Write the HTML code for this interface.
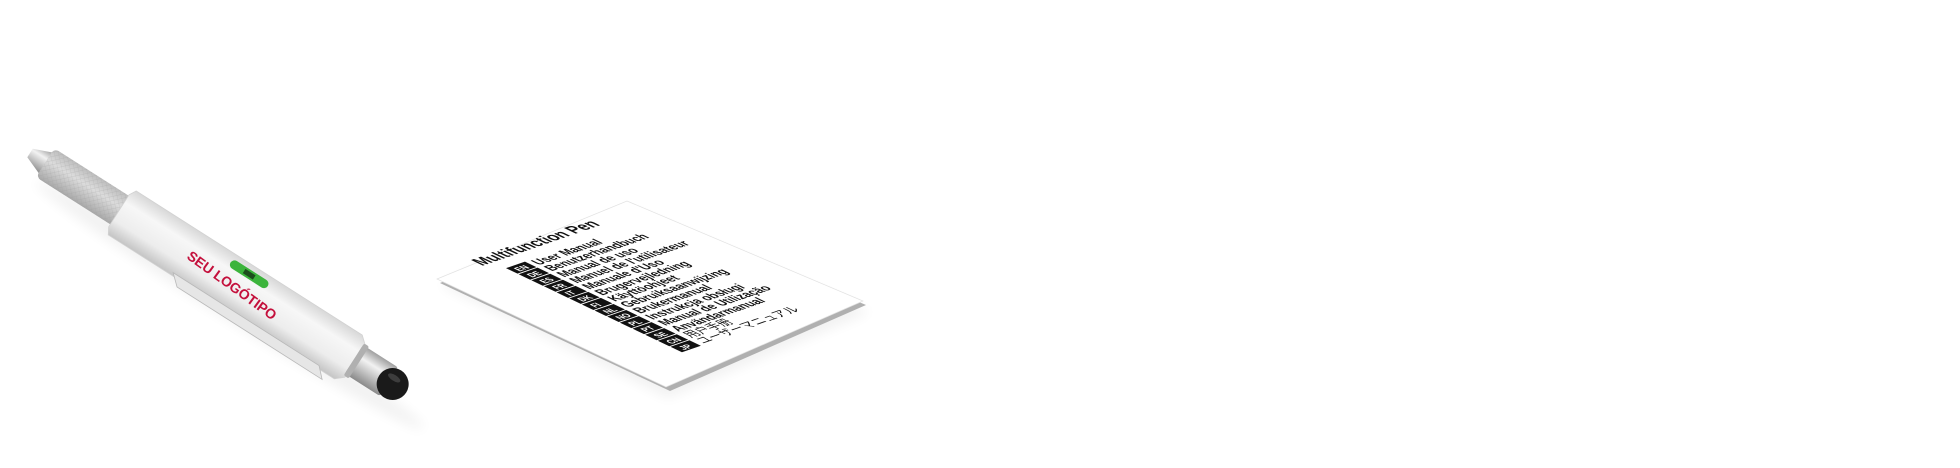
<!DOCTYPE html>
<html><head><meta charset="utf-8"><style>
html,body{margin:0;padding:0;background:#fff;width:1960px;height:468px;overflow:hidden}
svg{display:block}
</style></head><body>
<svg width="1960" height="468" viewBox="0 0 1960 468" xmlns="http://www.w3.org/2000/svg">
<defs>
<linearGradient id="body" x1="0" y1="0" x2="0" y2="1">
<stop offset="0" stop-color="#d8d8d8"/><stop offset="0.3" stop-color="#f7f7f7"/><stop offset="0.7" stop-color="#ededed"/><stop offset="1" stop-color="#c4c4c4"/></linearGradient>
<linearGradient id="grip" x1="0" y1="0" x2="0" y2="1">
<stop offset="0" stop-color="#bdbdbd"/><stop offset="0.4" stop-color="#dcdcdc"/><stop offset="1" stop-color="#a8a8a8"/></linearGradient>
<linearGradient id="cap" x1="0" y1="0" x2="0" y2="1">
<stop offset="0" stop-color="#a0a0a0"/><stop offset="0.35" stop-color="#f2f2f2"/><stop offset="1" stop-color="#8a8a8a"/></linearGradient>
<pattern id="knurl" width="4" height="4" patternUnits="userSpaceOnUse" patternTransform="rotate(45)">
<path d="M0 0H4M0 0V4" stroke="#999" stroke-width="0.6" opacity="0.5"/></pattern>
<filter id="sh" x="-20%" y="-50%" width="140%" height="200%"><feGaussianBlur stdDeviation="6"/></filter>
</defs>
<ellipse cx="230" cy="305" rx="230" ry="14" transform="rotate(32.5 230 305)" fill="#000" opacity="0.05" filter="url(#sh)"/>
<polygon points="440,285 630,210 870,312 668,398" fill="#000" opacity="0.05" filter="url(#sh)"/>
<g transform="translate(30,153) rotate(32.5)">
<polygon points="0,-5 20,-13 20,13 0,5" fill="url(#cap)"/>
<rect x="18" y="-17" width="95" height="34" rx="5" fill="url(#grip)"/>
<rect x="18" y="-17" width="95" height="34" rx="5" fill="url(#knurl)"/>
<polygon points="110,-25 378,-25 386,-18 386,20 378,27 110,27 106,20 106,-18" fill="url(#body)" stroke="#d2d2d2" stroke-width="0.8"/>
<rect x="228" y="-20" width="44" height="9" rx="4.5" fill="#3cb43c"/>
<rect x="244" y="-18" width="12" height="5" fill="#1d4d1d"/>
<path d="M185 24 L358 24 L368 34 L196 34 Z" fill="#e6e6e6" stroke="#b8b8b8" stroke-width="0.8"/>
<rect x="384" y="-17" width="42" height="34" rx="3" fill="url(#cap)"/>
<rect x="384" y="-19" width="6" height="38" rx="2" fill="#b0b0b0"/>
<ellipse cx="430" cy="0" rx="16" ry="16" fill="#1a1a1a"/>
<ellipse cx="428" cy="-6" rx="7" ry="3" fill="#555" opacity="0.6"/>
</g>
<text x="0" y="0" transform="translate(186,258) rotate(36)" font-family="Liberation Sans, sans-serif" font-weight="bold" font-size="14" fill="#c4103c">SEU  LOGÓTIPO</text>
<polygon points="440,283 630,205 866,305 670,391" fill="#b0b0b0"/>
<polygon points="437,279 627,201 863,301 666,387" fill="#fff" stroke="#e2e2e2" stroke-width="0.7"/>
<g transform="matrix(0.946,-0.326,1.15,0.55,482,266)" font-family="Liberation Sans, 'Noto Sans CJK JP', sans-serif" font-weight="bold" font-size="11.5" fill="#111">
<text x="0" y="0" font-size="15">Multifunction Pen</text>
<g fill="#111">
<rect x="12" y="11" width="20" height="10"/><rect x="12" y="22" width="20" height="10"/><rect x="12" y="33" width="20" height="10"/><rect x="12" y="44" width="20" height="10"/><rect x="12" y="55" width="20" height="10"/><rect x="12" y="66" width="20" height="10"/><rect x="12" y="77" width="20" height="10"/><rect x="12" y="88" width="20" height="10"/><rect x="12" y="99" width="20" height="10"/><rect x="12" y="110" width="20" height="10"/><rect x="12" y="121" width="20" height="10"/><rect x="12" y="132" width="20" height="10"/><rect x="12" y="143" width="20" height="10"/><rect x="12" y="154" width="20" height="10"/>
</g>
<g font-size="8" fill="#fff">
<text x="16" y="19.5">EN</text><text x="16" y="30.5">DE</text><text x="16" y="41.5">ES</text><text x="16" y="52.5">FR</text><text x="16" y="63.5">IT</text><text x="16" y="74.5">DK</text><text x="16" y="85.5">FI</text><text x="16" y="96.5">NL</text><text x="16" y="107.5">NO</text><text x="16" y="118.5">PL</text><text x="16" y="129.5">PT</text><text x="16" y="140.5">SE</text><text x="16" y="151.5">CN</text><text x="16" y="162.5">JP</text>
</g>
<text x="36" y="20">User Manual</text>
<text x="36" y="31">Benutzerhandbuch</text>
<text x="36" y="42">Manual de uso</text>
<text x="36" y="53">Manuel de l'utilisateur</text>
<text x="36" y="64">Manuale d'Uso</text>
<text x="36" y="75">Brugervejledning</text>
<text x="36" y="86">Käyttöohjeet</text>
<text x="36" y="97">Gebruiksaanwijzing</text>
<text x="36" y="108">Brukermanual</text>
<text x="36" y="119">Instrukcja obsługi</text>
<text x="36" y="130">Manual de Utilização</text>
<text x="36" y="141">Användarmanual</text>
<text x="36" y="152" font-weight="normal">用户手册</text>
<text x="36" y="163" font-weight="normal">ユーザーマニュアル</text>
</g>
</svg>
</body></html>
